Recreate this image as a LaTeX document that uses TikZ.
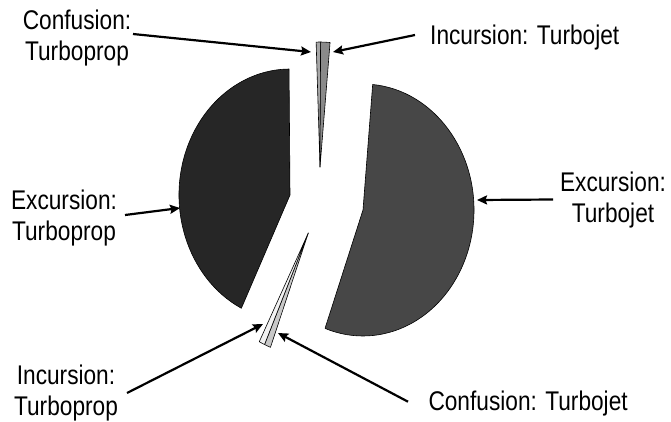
\documentclass[tikz,border=0pt]{standalone}
\usepackage{fontspec}
\setmainfont[FakeStretch=0.84]{Liberation Sans}
\usetikzlibrary{arrows.meta}
\definecolor{leftslice}{HTML}{262626}
\definecolor{rightslice}{HTML}{474747}
\definecolor{topleft}{HTML}{A6A6A6}
\definecolor{topright}{HTML}{8A8A8A}
\definecolor{botright}{HTML}{C8C8C8}
\definecolor{botleft}{HTML}{F2F2F2}
\begin{document}
\begin{tikzpicture}[x=1pt,y=-1pt,
  slice/.style={draw=black,line width=0.6pt,line join=round},
  lbl/.style={font=\fontsize{27}{31}\selectfont,inner sep=0pt,align=center},
  pointer/.style={line width=2.2pt,-{Stealth[length=10pt,width=9pt,inset=1.5pt]}}]
\useasboundingbox (0,0) rectangle (671,421);
% apexes of the exploded slices
\coordinate (R) at (363,210);
\coordinate (L) at (290,195);
\coordinate (T) at (320,167);
\coordinate (B) at (308.3,233);
% slices
\draw[slice,fill=rightslice] (R) -- ++(-85:111 and 126) arc[start angle=-85,end angle=110,x radius=111,y radius=126] -- cycle;
\draw[slice,fill=leftslice] (L) -- ++(116:111 and 126) arc[start angle=116,end angle=269.5,x radius=111,y radius=126] -- cycle;
\draw[slice,fill=topleft] (T) -- ++(-92:111 and 125) arc[start angle=-92,end angle=-89.7,x radius=111,y radius=125] -- cycle;
\draw[slice,fill=topright] (T) -- ++(-89.7:111 and 125) arc[start angle=-89.7,end angle=-84.8,x radius=111,y radius=125] -- cycle;
\draw[slice,fill=botright] (B) -- ++(110.5:108 and 122) arc[start angle=110.5,end angle=113.9,x radius=108,y radius=122] -- cycle;
\draw[slice,fill=botleft] (B) -- ++(113.9:108 and 122) arc[start angle=113.9,end angle=117,x radius=108,y radius=122] -- cycle;
% labels (base anchor = baseline of the last line)
\node[lbl,anchor=base] (cp) at (77,60) {Confusion:\\Turboprop};
\node[lbl,anchor=base west] (ij) at (430,44.3) {Incursion: Turbojet};
\node[lbl,anchor=base] (ep) at (64,240) {Excursion:\\Turboprop};
\node[lbl,anchor=base] (ej) at (613,222.7) {Excursion:\\Turbojet};
\node[lbl,anchor=base] (ip) at (66,415) {Incursion:\\Turboprop};
\node[lbl,anchor=base west] (cj) at (428.3,410) {Confusion: Turbojet};
% arrow ends
\coordinate (cps) at (133,34);   \coordinate (cpt) at (311,52);
\coordinate (ijs) at (415,35);   \coordinate (ijt) at (333,52);
\coordinate (eps) at (125,215);  \coordinate (ept) at (180,208);
\coordinate (ejs) at (553,199.5);\coordinate (ejt) at (477,200);
\coordinate (ips) at (127,393);  \coordinate (ipt) at (263,324);
\coordinate (cjs) at (408,401.7);\coordinate (cjt) at (278,333);
\draw[pointer] (cps) -- (cpt);
\draw[pointer] (ijs) -- (ijt);
\draw[pointer] (eps) -- (ept);
\draw[pointer] (ejs) -- (ejt);
\draw[pointer] (ips) -- (ipt);
\draw[pointer] (cjs) -- (cjt);
\end{tikzpicture}
\end{document}
